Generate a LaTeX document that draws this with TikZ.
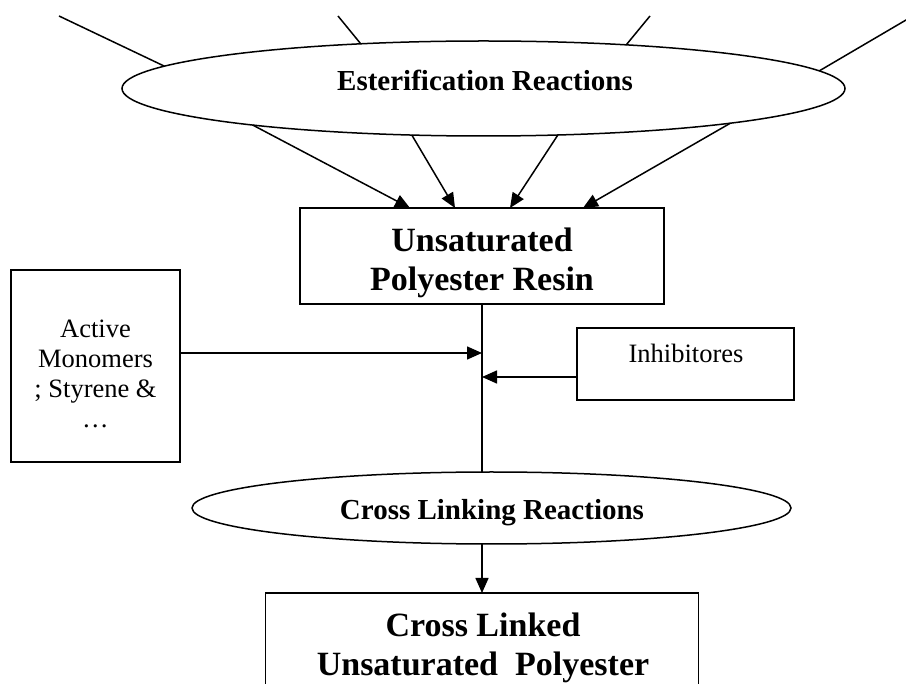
\documentclass[tikz,border=0pt]{standalone}
\usepackage{fontspec}
\setmainfont{Liberation Serif}
\usetikzlibrary{shapes.geometric,arrows.meta,calc}
\tikzset{
  ln/.style={line width=1.5pt, black},
  arr/.style={ln, -{Triangle[length=15pt,width=13pt]}},
  ell/.style={ellipse, draw, line width=1.5pt, inner sep=0pt, outer sep=0pt},
  boxn/.style={rectangle, draw, line width=1.5pt, inner sep=0pt, outer sep=0pt},
  ttl/.style={font=\bfseries\fontsize{29}{34}\selectfont, anchor=base, inner sep=0pt},
  big/.style={font=\bfseries\fontsize{34}{39}\selectfont, anchor=base, inner sep=0pt, align=center},
  reg/.style={font=\fontsize{26.5}{30}\selectfont, anchor=base, inner sep=0pt, align=center},
}
\begin{document}
\begin{tikzpicture}[x=1pt,y=-1pt]
\useasboundingbox (0,0) rectangle (906,684);
\clip (0,0) rectangle (906,684);
% shapes
\node[ell, minimum width=723pt, minimum height=95pt] (ester) at (483.5,88.5) {};
\node[boxn, minimum width=364pt, minimum height=96pt] (resin) at (482,256) {};
\node[boxn, minimum width=169pt, minimum height=192pt] (act) at (95.5,366) {};
\node[boxn, minimum width=217pt, minimum height=72pt] (inh) at (685.5,364) {};
\node[ell, minimum width=599pt, minimum height=72pt] (cross) at (491.5,508) {};
\node[boxn, minimum width=433pt, minimum height=167pt] (final) at (482,676.5) {};
% texts (base = baseline of the last line)
\node[ttl] (estert) at (485,91) {Esterification Reactions};
\node[big] (resint) at (482,291) {Unsaturated\\Polyester Resin};
\node[reg] (actt) at (95.5,428) {Active\\Monomers\\; Styrene \&\\…};
\node[reg] (inht) at (686,363) {Inhibitores};
\node[ttl] (crosst) at (492,520) {Cross Linking Reactions};
\node[big] (finalt) at (483,675) {Cross Linked\\Unsaturated\ \ Polyester};
% free ends / junctions
\coordinate (a1) at (59,16);
\coordinate (a2) at (338,16);
\coordinate (a3) at (650,16);
\coordinate (a4) at (912,16.5);
\coordinate (j1) at (482,353);
\coordinate (j2) at (482,377);
% incoming lines
\draw[ln] (a1) -- (ester.176.4);
\draw[ln] (a2) -- (ester.160.3);
\draw[ln] (a3) -- (ester.17.3);
\draw[ln] (a4) -- (ester.3.2);
% ester -> resin
\draw[arr] (ester.189.8) -- ($(resin.north west)+(110,0)$);
\draw[arr] (ester.213.4) -- ($(resin.north west)+(155,0)$);
\draw[arr] (ester.328.7) -- ($(resin.north west)+(210,0)$);
\draw[arr] (ester.352) -- ($(resin.north west)+(283,0)$);
% main stem
\draw[ln] (resin.south) -- (resin.south |- cross.north);
\draw[arr] (act.east |- j1) -- (j1);
\draw[arr] (inh.west |- j2) -- (j2);
\draw[arr] (resin.south |- cross.south) -- (final.north);
\end{tikzpicture}
\end{document}
